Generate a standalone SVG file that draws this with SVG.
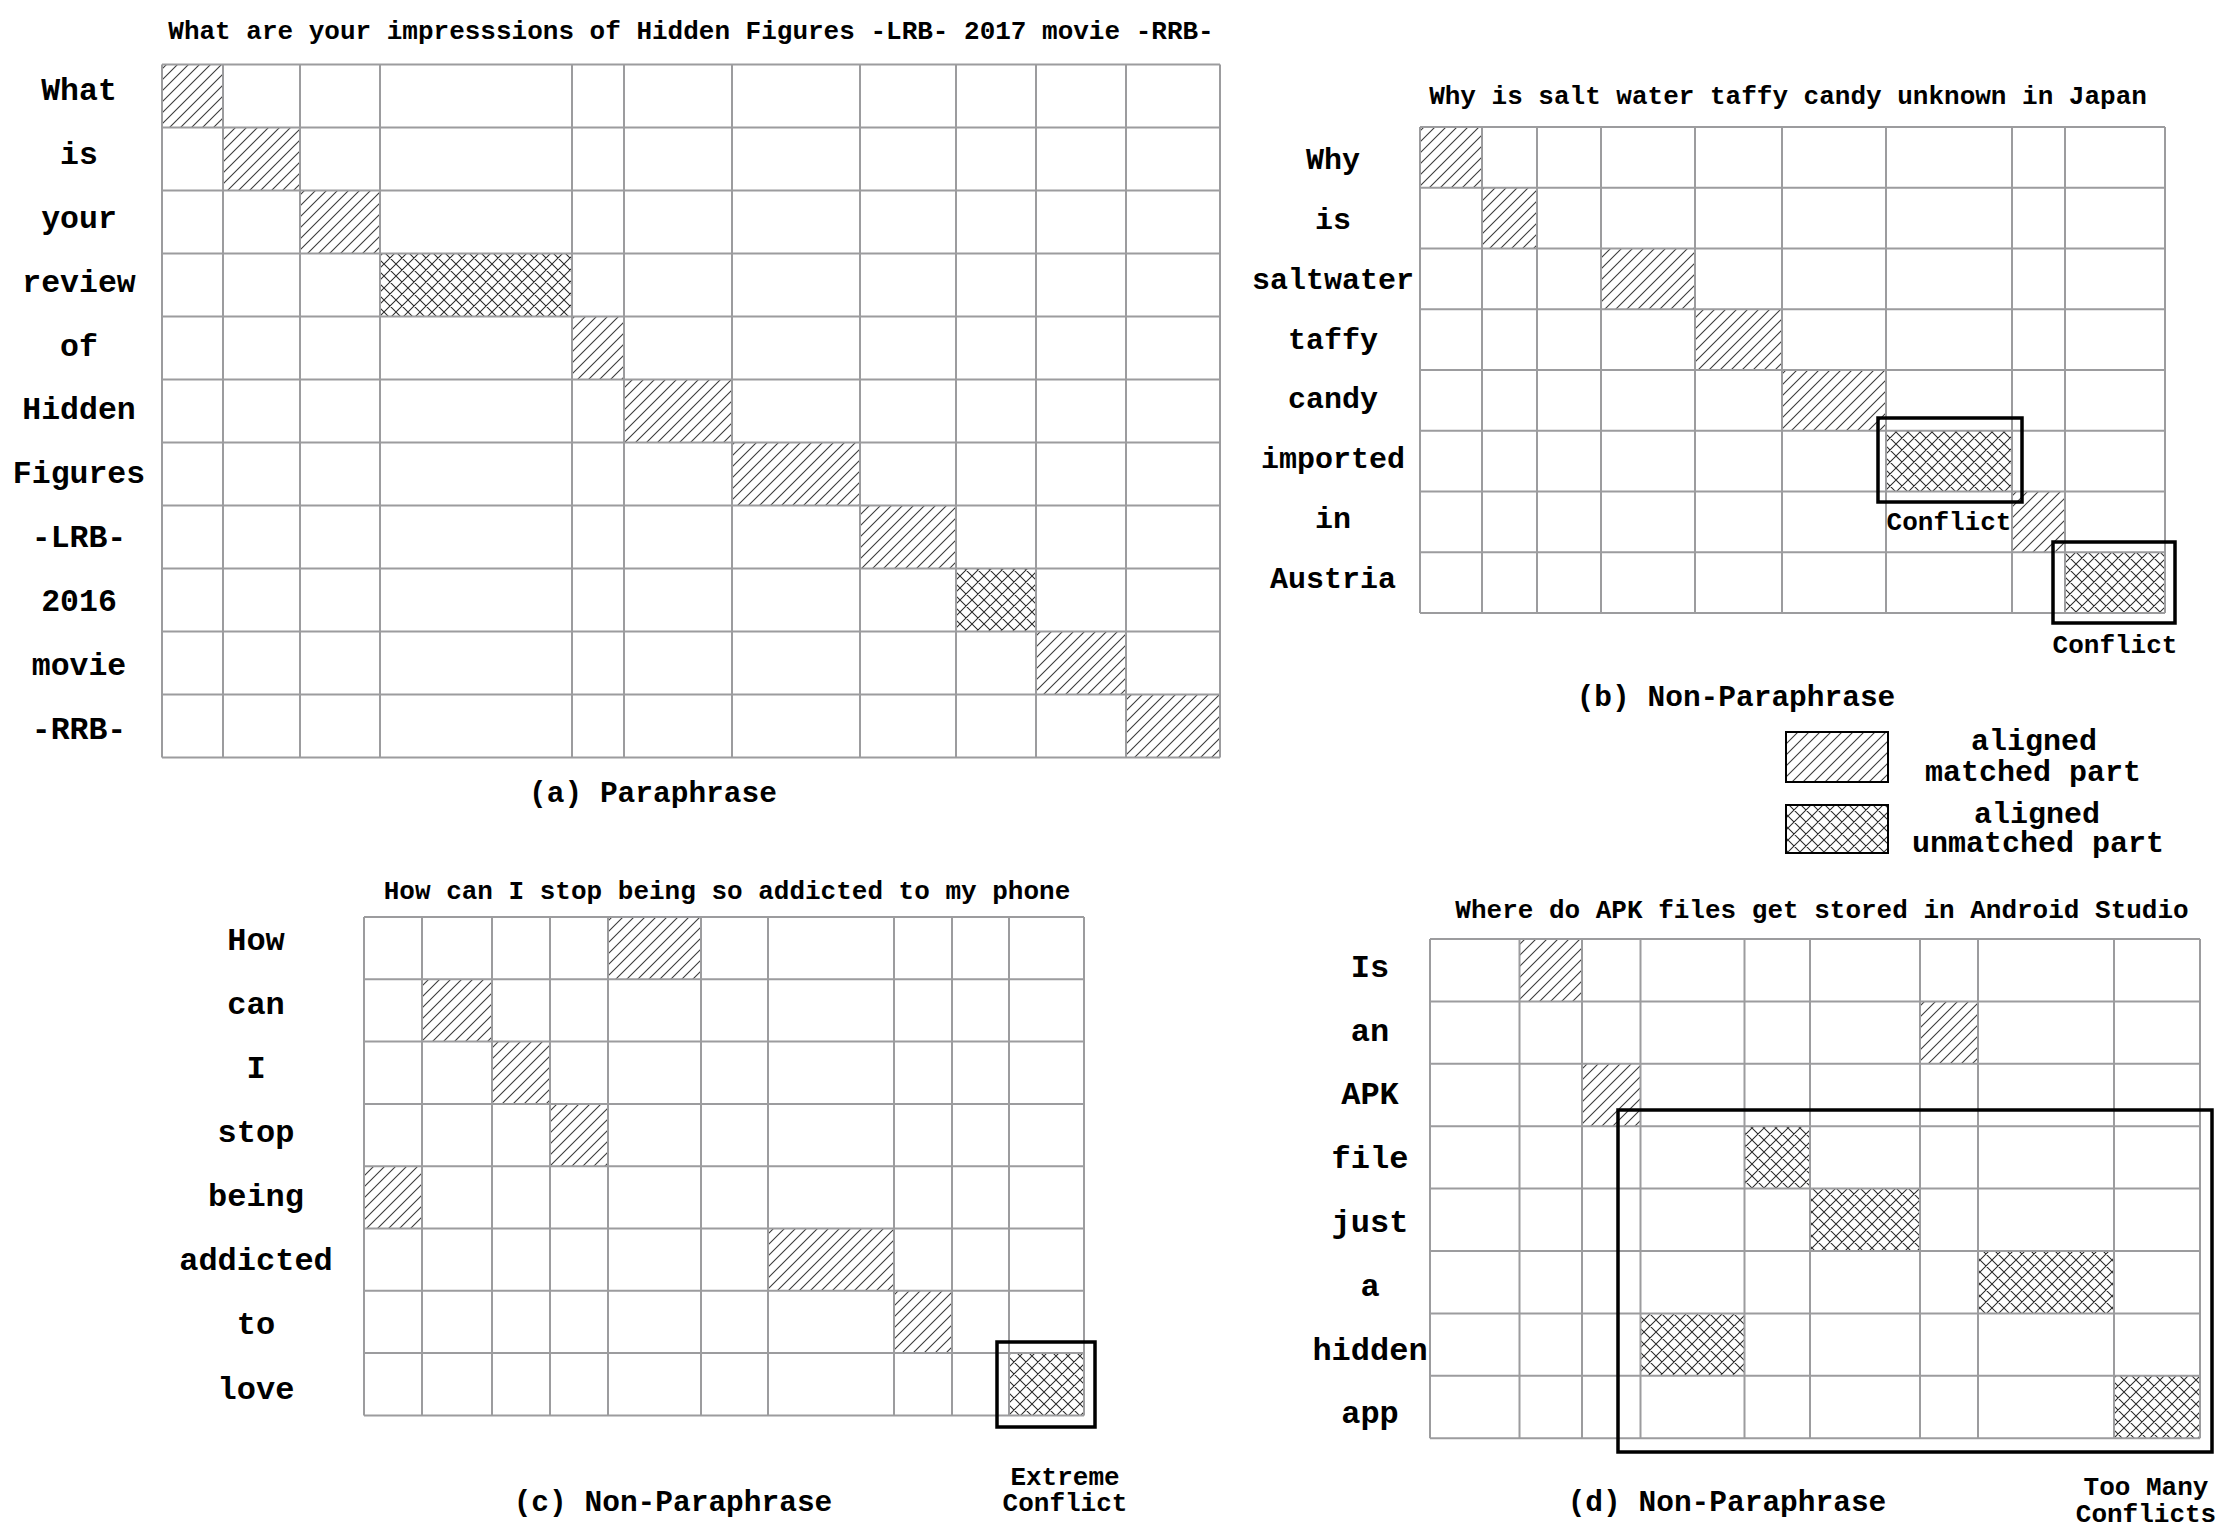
<svg xmlns="http://www.w3.org/2000/svg" width="2233" height="1540" viewBox="0 0 2233 1540">
<style>
text{font-family:"Liberation Mono","Courier New",monospace;font-weight:bold;fill:#000;text-anchor:middle}
.t{font-size:26px}
.la{font-size:31.5px}
.lb{font-size:30px}
.lc{font-size:32px}
.cap{font-size:29.5px}
.leg{font-size:30px}
.note{font-size:26px}
.grid{fill:none;stroke:#9c9c9e;stroke-width:2}
.h{fill:url(#hatch)}
.x{fill:url(#cross)}
.box{fill:none;stroke:#000;stroke-width:3.5}
.lbox{stroke:#000;stroke-width:2}
</style>
<defs>
<pattern id="hatch" patternUnits="userSpaceOnUse" width="11" height="11">
<rect width="11" height="11" fill="#fff"/>
<path d="M-3,3 L3,-3 M0,11 L11,0 M8,14 L14,8" stroke="#3c3c3c" stroke-width="1.1"/>
</pattern>
<pattern id="cross" patternUnits="userSpaceOnUse" width="12" height="12">
<rect width="12" height="12" fill="#fff"/>
<path d="M-3,3 L3,-3 M0,12 L12,0 M9,15 L15,9 M-3,9 L3,15 M0,0 L12,12 M9,-3 L15,3" stroke="#2a2a2a" stroke-width="1.05"/>
</pattern>
</defs>
<rect width="2233" height="1540" fill="#fff"/>

<g id="panel-a">
<text class="t" x="691" y="39">What are your impresssions of Hidden Figures -LRB- 2017 movie -RRB-</text>
<g id="cells-a">
<rect class="h" x="162" y="64.5" width="61" height="63"/>
<rect class="h" x="223" y="127.5" width="77" height="63"/>
<rect class="h" x="300" y="190.5" width="80" height="63"/>
<rect class="x" x="380" y="253.5" width="192" height="63"/>
<rect class="h" x="572" y="316.5" width="52" height="63"/>
<rect class="h" x="624" y="379.5" width="108" height="63"/>
<rect class="h" x="732" y="442.5" width="128" height="63"/>
<rect class="h" x="860" y="505.5" width="96" height="63"/>
<rect class="x" x="956" y="568.5" width="80" height="63"/>
<rect class="h" x="1036" y="631.5" width="90" height="63"/>
<rect class="h" x="1126" y="694.5" width="94" height="63"/>
</g>
<path class="grid" d="M162,64.5V757.5M223,64.5V757.5M300,64.5V757.5M380,64.5V757.5M572,64.5V757.5M624,64.5V757.5M732,64.5V757.5M860,64.5V757.5M956,64.5V757.5M1036,64.5V757.5M1126,64.5V757.5M1220,64.5V757.5
M162,64.5H1220M162,127.5H1220M162,190.5H1220M162,253.5H1220M162,316.5H1220M162,379.5H1220M162,442.5H1220M162,505.5H1220M162,568.5H1220M162,631.5H1220M162,694.5H1220M162,757.5H1220"/>
<g id="labels-a" class="la">
<text x="79" y="100">What</text>
<text x="79" y="164">is</text>
<text x="79" y="228">your</text>
<text x="79" y="292">review</text>
<text x="79" y="356">of</text>
<text x="79" y="419">Hidden</text>
<text x="79" y="483">Figures</text>
<text x="79" y="547">-LRB-</text>
<text x="79" y="611">2016</text>
<text x="79" y="675">movie</text>
<text x="79" y="739">-RRB-</text>
</g>
<text class="cap" x="653" y="802">(a) Paraphrase</text>
</g>

<g id="panel-b">
<text class="t" x="1788" y="104">Why is salt water taffy candy unknown in Japan</text>
<g id="cells-b">
<rect class="h" x="1420" y="127" width="62" height="60.75"/>
<rect class="h" x="1482" y="187.75" width="55" height="60.75"/>
<rect class="h" x="1601" y="248.5" width="94" height="60.75"/>
<rect class="h" x="1695" y="309.25" width="87" height="60.75"/>
<rect class="h" x="1782" y="370" width="104" height="60.75"/>
<rect class="x" x="1886" y="430.75" width="126" height="60.75"/>
<rect class="h" x="2012" y="491.5" width="53" height="60.75"/>
<rect class="x" x="2065" y="552.25" width="100" height="60.75"/>
</g>
<path class="grid" d="M1420,127V613M1482,127V613M1537,127V613M1601,127V613M1695,127V613M1782,127V613M1886,127V613M2012,127V613M2065,127V613M2165,127V613
M1420,127H2165M1420,187.75H2165M1420,248.5H2165M1420,309.25H2165M1420,370H2165M1420,430.75H2165M1420,491.5H2165M1420,552.25H2165M1420,613H2165"/>
<g id="conflict-b1"><rect class="box" x="1878" y="418" width="144" height="84"/><text class="note" x="1949" y="530">Conflict</text></g>
<g id="conflict-b2"><rect class="box" x="2053" y="542" width="122" height="81"/><text class="note" x="2115" y="653">Conflict</text></g>
<g id="labels-b" class="lb">
<text x="1333" y="169">Why</text>
<text x="1333" y="229">is</text>
<text x="1333" y="289">saltwater</text>
<text x="1333" y="349">taffy</text>
<text x="1333" y="408">candy</text>
<text x="1333" y="468">imported</text>
<text x="1333" y="528">in</text>
<text x="1333" y="588">Austria</text>
</g>
<text class="cap" x="1736" y="706">(b) Non-Paraphrase</text>
</g>

<g id="legend">
<rect class="lbox" x="1786" y="732" width="102" height="50" fill="url(#hatch)"/>
<rect class="lbox" x="1786" y="805" width="102" height="48" fill="url(#cross)"/>
<text class="leg" x="2034" y="750">aligned</text>
<text class="leg" x="2033" y="781">matched part</text>
<text class="leg" x="2037" y="823">aligned</text>
<text class="leg" x="2038" y="852">unmatched part</text>
</g>

<g id="panel-c">
<text class="t" x="727" y="899">How can I stop being so addicted to my phone</text>
<g id="cells-c">
<rect class="h" x="608" y="917" width="93" height="62.3"/>
<rect class="h" x="422" y="979.3" width="70" height="62.3"/>
<rect class="h" x="492" y="1041.6" width="58" height="62.3"/>
<rect class="h" x="550" y="1103.9" width="58" height="62.3"/>
<rect class="h" x="364" y="1166.2" width="58" height="62.3"/>
<rect class="h" x="768" y="1228.5" width="126" height="62.3"/>
<rect class="h" x="894" y="1290.8" width="58" height="62.3"/>
<rect class="x" x="1009" y="1353.1" width="75" height="62.3"/>
</g>
<path class="grid" d="M364,917V1415.4M422,917V1415.4M492,917V1415.4M550,917V1415.4M608,917V1415.4M701,917V1415.4M768,917V1415.4M894,917V1415.4M952,917V1415.4M1009,917V1415.4M1084,917V1415.4
M364,917H1084M364,979.3H1084M364,1041.6H1084M364,1103.9H1084M364,1166.2H1084M364,1228.5H1084M364,1290.8H1084M364,1353.1H1084M364,1415.4H1084"/>
<g id="conflict-c"><rect class="box" x="997" y="1342" width="98" height="85"/>
<text class="note" x="1065" y="1485">Extreme</text><text class="note" x="1065" y="1511">Conflict</text></g>
<g id="labels-c" class="lc">
<text x="256" y="950">How</text>
<text x="256" y="1014">can</text>
<text x="256" y="1078">I</text>
<text x="256" y="1142">stop</text>
<text x="256" y="1206">being</text>
<text x="256" y="1270">addicted</text>
<text x="256" y="1334">to</text>
<text x="256" y="1399">love</text>
</g>
<text class="cap" x="673" y="1511">(c) Non-Paraphrase</text>
</g>

<g id="panel-d">
<text class="t" x="1822" y="918">Where do APK files get stored in Android Studio</text>
<g id="cells-d">
<rect class="h" x="1519.5" y="939" width="62.5" height="62.4"/>
<rect class="h" x="1920" y="1001.4" width="58" height="62.4"/>
<rect class="h" x="1582" y="1063.8" width="58.5" height="62.4"/>
<rect class="x" x="1744.5" y="1126.2" width="65.5" height="62.4"/>
<rect class="x" x="1810" y="1188.6" width="110" height="62.4"/>
<rect class="x" x="1978" y="1251" width="136" height="62.4"/>
<rect class="x" x="1640.5" y="1313.4" width="104" height="62.4"/>
<rect class="x" x="2114" y="1375.8" width="86" height="62.4"/>
</g>
<path class="grid" d="M1430,939V1438.2M1519.5,939V1438.2M1582,939V1438.2M1640.5,939V1438.2M1744.5,939V1438.2M1810,939V1438.2M1920,939V1438.2M1978,939V1438.2M2114,939V1438.2M2200,939V1438.2
M1430,939H2200M1430,1001.4H2200M1430,1063.8H2200M1430,1126.2H2200M1430,1188.6H2200M1430,1251H2200M1430,1313.4H2200M1430,1375.8H2200M1430,1438.2H2200"/>
<g id="conflict-d"><rect class="box" x="1618" y="1110" width="594" height="342"/>
<text class="note" x="2146" y="1495">Too Many</text><text class="note" x="2146" y="1522">Conflicts</text></g>
<g id="labels-d" class="lc">
<text x="1370" y="977">Is</text>
<text x="1370" y="1041">an</text>
<text x="1370" y="1104">APK</text>
<text x="1370" y="1168">file</text>
<text x="1370" y="1232">just</text>
<text x="1370" y="1296">a</text>
<text x="1370" y="1360">hidden</text>
<text x="1370" y="1423">app</text>
</g>
<text class="cap" x="1727" y="1511">(d) Non-Paraphrase</text>
</g>
</svg>
